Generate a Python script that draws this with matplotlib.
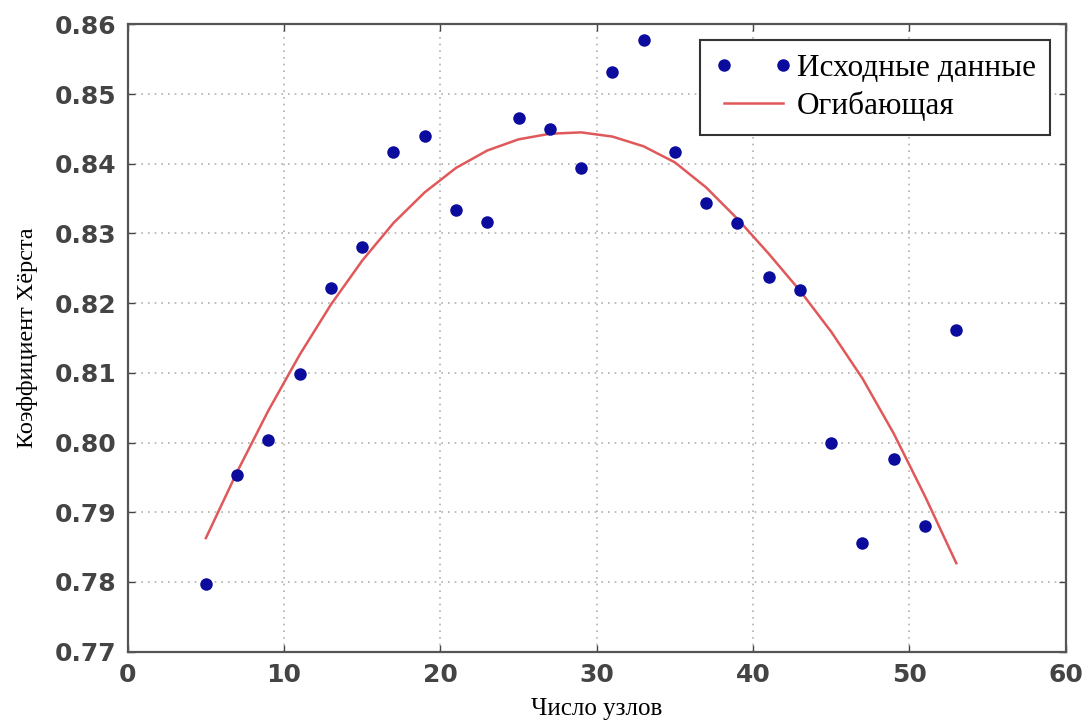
import matplotlib
matplotlib.use("Agg")
import matplotlib.pyplot as plt
from matplotlib.ticker import FormatStrFormatter

# Data
nodes = [5, 7, 9, 11, 13, 15, 17, 19, 21, 23, 25, 27, 29, 31, 33, 35, 37, 39, 41, 43, 45, 47, 49, 51, 53]
hurst = [0.7797, 0.7954, 0.8004, 0.8098, 0.8222, 0.8281, 0.8417, 0.8440, 0.8334, 0.8316,
         0.8466, 0.8450, 0.8394, 0.8532, 0.8578, 0.8417, 0.8343, 0.8315, 0.8238, 0.8219,
         0.8000, 0.7856, 0.7976, 0.7880, 0.8161]
envelope = [0.7863, 0.7958, 0.8046, 0.8126, 0.8198, 0.8261, 0.8315, 0.8359, 0.8394, 0.8419,
            0.8435, 0.8443, 0.8445, 0.8439, 0.8425, 0.8402, 0.8366, 0.8321, 0.8271, 0.8218,
            0.8159, 0.8092, 0.8013, 0.7923, 0.7827]
xticks = [0, 10, 20, 30, 40, 50, 60]
yticks = [0.77, 0.78, 0.79, 0.80, 0.81, 0.82, 0.83, 0.84, 0.85, 0.86]

serif = ["Liberation Serif", "DejaVu Serif"]

fig = plt.figure(figsize=(10.86, 7.22), dpi=100)
ax = fig.add_axes([0.1176, 0.0974, 0.9813 - 0.1176, 0.9663 - 0.0974])

ax.plot(nodes, hurst, "o", color="#0b0b9e", markersize=9, markeredgewidth=0,
        label="Исходные данные", zorder=3)
ax.plot(nodes, envelope, "-", color="#e0585a", linewidth=1.8,
        label="Огибающая", zorder=2, solid_joinstyle="round")

ax.set_xlim(0, 60)
ax.set_ylim(0.77, 0.86)
ax.set_xticks(xticks)
ax.set_yticks(yticks)
ax.yaxis.set_major_formatter(FormatStrFormatter("%.2f"))
ax.tick_params(axis="both", direction="in", length=5, width=1, color="#444444",
               top=True, right=True, labelsize=18, labelcolor="#444444", pad=8)
for lab in ax.get_xticklabels() + ax.get_yticklabels():
    lab.set_family("DejaVu Sans")
    lab.set_fontweight("bold")

ax.grid(True, linestyle=(0, (1, 3)), color="#b0b0b0", linewidth=1.2)
for sp in ax.spines.values():
    sp.set_color("#555555")
    sp.set_linewidth(1.6)

ax.set_xlabel("Число узлов", family=serif, fontsize=18, labelpad=8)
ax.set_ylabel("Коэффициент Хёрста", family=serif, fontsize=17.5, labelpad=12)

leg = ax.legend(loc="upper right", numpoints=2, prop={"family": serif, "size": 22.5},
                frameon=True, fancybox=False, edgecolor="#333333", framealpha=1,
                handlelength=2.5, handletextpad=0.15, borderaxespad=0.5,
                borderpad=0.45, labelspacing=0.25)
leg.get_frame().set_linewidth(1.5)

fig.savefig("out.png", dpi=100)
